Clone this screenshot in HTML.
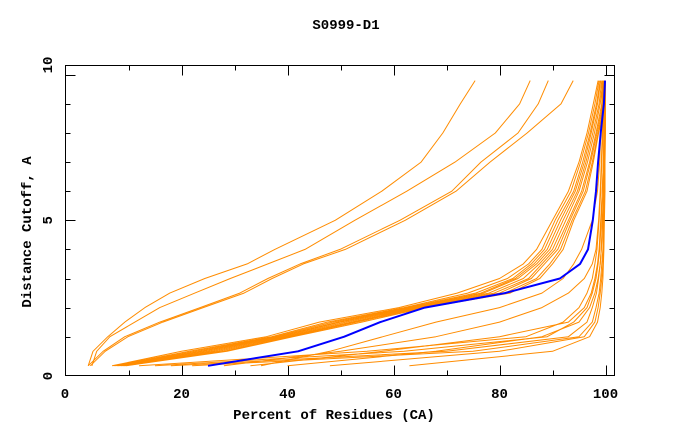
<!DOCTYPE html>
<html><head><meta charset="utf-8">
<style>
html,body{margin:0;padding:0;background:#fff;}
svg text{font-family:"Liberation Mono",monospace;font-weight:bold;fill:#000;}
</style></head>
<body>
<svg id="chart" width="680" height="440" viewBox="0 0 680 440" xmlns="http://www.w3.org/2000/svg">
<rect x="0" y="0" width="680" height="440" fill="#fff"/>
<text x="346" y="29" font-size="14" text-anchor="middle">S0999-D1</text>
<text x="334" y="419" font-size="14" text-anchor="middle">Percent of Residues (CA)</text>
<text x="0" y="0" font-size="14" text-anchor="middle" transform="translate(31,232) rotate(-90)">Distance Cutoff, A</text>
<g id="ticks"></g>
<g id="series"></g>
<rect x="65.5" y="65.5" width="549" height="310" fill="none" stroke="#000" stroke-width="1"/>
</svg>
<script>
const distances = [0,0.5,1,1.5,2,2.5,3,3.5,4,5,6,7,8,9,9.8];
const groupA = [
 [2.4,3.3,6.1,9.3,13.1,17.8,24.4,32.4,37.6,49.0,57.8,65.2,69.3,72.6,75.4],
 [3.1,4.0,6.5,11.2,15.9,22.5,29.2,36.3,43.3,52.7,62.5,71.6,79.2,83.8,85.8],
 [2.4,5.2,9.3,15.9,23.5,31.0,36.3,42.4,49.9,61.2,71.0,76.5,83.5,87.3,89.2],
 [2.8,5.6,9.9,16.5,24.1,31.8,37.1,43.0,50.9,62.2,71.8,78.2,85.2,91.6,93.9]
];
const groupB = [
 [6.9,20.0,36.0,46.0,61.0,72.0,80.0,84.5,87.0,90.0,93.0,95.0,96.5,97.7,98.6],
 [7.2,21.5,37.0,47.5,62.0,74.0,81.5,85.5,88.0,90.5,93.5,95.3,96.8,98.0,98.8],
 [7.5,22.5,37.5,48.5,62.5,75.5,82.5,86.0,88.5,91.0,94.0,95.7,97.1,98.3,99.0],
 [7.8,23.5,38.0,49.5,63.0,76.5,83.0,86.5,89.0,91.5,94.3,96.0,97.3,98.5,99.1],
 [8.0,24.0,38.5,50.0,63.5,77.0,83.5,87.0,89.5,92.0,94.7,96.3,97.6,98.8,99.3],
 [8.3,25.0,39.0,51.0,64.0,78.0,84.5,87.5,90.0,92.5,95.0,96.6,97.9,99.0,99.5],
 [8.6,26.0,39.5,52.0,64.5,79.0,85.5,88.0,90.5,93.0,95.5,97.0,98.2,99.3,99.6],
 [8.9,27.0,40.0,52.5,65.0,80.0,86.0,88.5,91.0,93.3,95.8,97.2,98.4,99.5,99.8],
 [9.2,28.0,40.5,53.0,65.5,81.0,87.0,89.5,91.5,93.7,96.2,97.5,98.6,99.7,99.9],
 [9.5,28.6,41.0,54.0,66.0,82.0,87.6,90.0,92.0,94.0,96.5,97.7,98.7,100,100]
];
const groupC = [
 [35,48,58,68,80,88,92,94,95.5,97.5,98.5,98.9,99.1,99.3,99.4],
 [12,55,85,92,95,96.5,97.5,98,98.4,98.8,99.1,99.3,99.5,99.6,99.7],
 [15,62,89,94,96.5,97.5,98.2,98.6,98.9,99.2,99.4,99.6,99.7,99.8,99.9],
 [18,70,93,96.5,97.5,98.3,98.7,99,99.2,99.4,99.6,99.7,99.8,99.9,99.9],
 [22,75,95,97.5,98.2,98.8,99.1,99.3,99.5,99.6,99.7,99.8,99.9,99.9,100],
 [28,50,68,80,88,93,96,97.5,98.2,98.7,99,99.2,99.4,99.5,99.6],
 [33,58,80,93,96,97.3,98,98.5,98.8,99.1,99.4,99.6,99.7,99.8,99.8],
 [48,80,96,98,98.6,99,99.3,99.5,99.6,99.7,99.8,99.9,99.9,100,100],
 [63,90,97,98.5,99,99.3,99.5,99.6,99.7,99.8,99.9,99.9,100,100,100],
 [40,68,88,95,97,98,98.6,99,99.2,99.5,99.6,99.7,99.8,99.9,99.9]
];
const blueSeries = [25.0,42.0,50.7,57.5,65.9,81.0,91.4,95.2,96.7,97.6,98.2,98.6,99.1,99.7,99.9];
const xTickLabels = ["0","20","40","60","80","100"];
const yTickLabels = ["0","5","10"];

const NS = "http://www.w3.org/2000/svg";
function xs(v){ return 75.5 + v*5.3; }
function ys(d){ return 365.8 - d*29.1; }

const ticks = document.getElementById('ticks');
function line(x1,y1,x2,y2,name){
  const l = document.createElementNS(NS,'line');
  l.setAttribute('x1',x1); l.setAttribute('y1',y1); l.setAttribute('x2',x2); l.setAttribute('y2',y2);
  l.setAttribute('stroke','#000'); l.setAttribute('stroke-width','1');
  
  
  ticks.appendChild(l);
}
function text(x,y,s,name,rot){
  const t = document.createElementNS(NS,'text');
  t.setAttribute('font-size','14');
  t.setAttribute('text-anchor','middle');
  if(rot){ t.setAttribute('transform','translate('+x+','+y+') rotate(-90)'); t.setAttribute('x',0); t.setAttribute('y',0); }
  else { t.setAttribute('x',x); t.setAttribute('y',y); }
  t.textContent = s;
  
  
  ticks.appendChild(t);
}
for(let v=10; v<=100; v+=10){
  const x = Math.round(xs(v))+0.5;
  const len = (v%20===0)?10:5;
  line(x,375.5,x,375.5-len,'x-tick');
  line(x,65.5,x,65.5+len,'x-tick-top');
}
for(let d=1; d<=10; d++){
  const y = Math.round(ys(d))+0.5;
  const len = (d%5===0)?10:5;
  line(65.5,y,65.5+len,y,'y-tick');
  line(614.5,y,614.5-len,y,'y-tick-right');
}
xTickLabels.forEach((s,i)=>{
  const v = Number(s);
  const x = v===0 ? 65 : xs(v);
  text(x,398,s,'x-tick-label',false);
});
yTickLabels.forEach((s,i)=>{
  const d = Number(s);
  const y = d===0 ? 376 : (d===10 ? 65 : ys(d));
  text(52,y,s,'y-tick-label',true);
});

const series = document.getElementById('series');
function drawSeries(vals, color, w, name){
  const p = document.createElementNS(NS,'polyline');
  p.setAttribute('points', vals.map((v,i)=>xs(v).toFixed(1)+','+ys(distances[i]).toFixed(1)).join(' '));
  p.setAttribute('fill','none');
  p.setAttribute('stroke',color);
  p.setAttribute('stroke-width',w);
  p.setAttribute('stroke-linejoin','round');
  
  
  series.appendChild(p);
}
groupA.forEach(s=>drawSeries(s,'#ff8c00',1,'model-curve'));
groupB.forEach(s=>drawSeries(s,'#ff8c00',1,'model-curve'));
groupC.forEach(s=>drawSeries(s,'#ff8c00',1,'model-curve'));
drawSeries(blueSeries,'#0000ff',2,'target-model-curve');
</script>
</body></html>
